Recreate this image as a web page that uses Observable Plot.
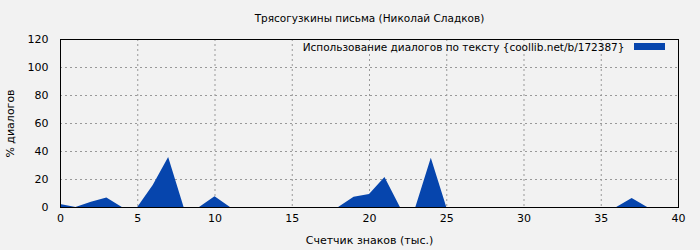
<!DOCTYPE html>
<html><head><meta charset="utf-8">
<script src="https://cdn.jsdelivr.net/npm/d3@7"></script>
<script src="https://cdn.jsdelivr.net/npm/@observablehq/plot@0.6"></script>
<style>
html,body{margin:0;padding:0;background:#f2f2f2;}
svg{font-family:"DejaVu Sans",sans-serif;}
</style></head>
<body><div id="chart"></div>
<script>
const title = "Трясогузкины письма (Николай Сладков)";
const seriesName = "Использование диалогов по тексту {coollib.net/b/172387}";
const xLabel = "Счетчик знаков (тыс.)";
const yLabel = "% диалогов";
const xs = [0,1,2,3,4,5,6,7,8,9,10,11,12,13,14,15,16,17,18,19,20,21,22,23,24,25,26,27,28,29,30,31,32,33,34,35,36,37,38,39,40];
const ys = [2.1,0,3.8,6.7,0,0,15.7,35.7,0,0,7.6,0,0,0,0,0,0,0,0,7.4,9.3,21.4,0,0,35.2,0,0,0,0,0,0,0,0,0,0,0,0,6.4,0,0,0];
const xTicks = [0,5,10,15,20,25,30,35,40];
const yTicks = [0,20,40,60,80,100,120];
const data = xs.map((x,i)=>({x, y: ys[i]}));
const color = "#0645ad";

const chart = Plot.plot({
  width: 700, height: 250,
  marginLeft: 60, marginRight: 22, marginTop: 39, marginBottom: 43,
  style: {background: "#f2f2f2", fontSize: "11px", fontFamily: "DejaVu Sans, sans-serif", color: "#000"},
  x: {domain: [0,40], ticks: xTicks, label: xLabel, labelAnchor: "center", labelArrow: "none", labelOffset: 36, tickSize: 0, tickPadding: 7},
  y: {domain: [0,120], ticks: yTicks, label: yLabel, labelAnchor: "center", labelArrow: "none", labelOffset: 54, tickSize: 0, tickPadding: 12},
  marks: [
    Plot.gridX(xTicks.slice(1,-1), {stroke: "#999", strokeOpacity: 1, strokeDasharray: "2,3"}),
    Plot.gridY(yTicks.slice(1,-1), {stroke: "#999", strokeOpacity: 1, strokeDasharray: "2,3"}),
    Plot.areaY(data, {x: "x", y: "y", fill: color, curve: "linear"}),
    Plot.frame({stroke: "#000", strokeWidth: 1}),
    Plot.text([title], {frameAnchor: "top", dy: -21, fontSize: 10.5, lineAnchor: "middle"}),
    Plot.text([seriesName], {frameAnchor: "top-right", dx: -54, dy: 8, fontSize: 10.5, textAnchor: "end", lineAnchor: "middle"})
  ]
});
document.getElementById("chart").appendChild(chart);
// legend swatch
const svg = d3.select(chart);
svg.append("rect").attr("x", 700-22-44).attr("y", 39+4).attr("width", 31).attr("height", 7).attr("fill", color);
</script></body></html>
